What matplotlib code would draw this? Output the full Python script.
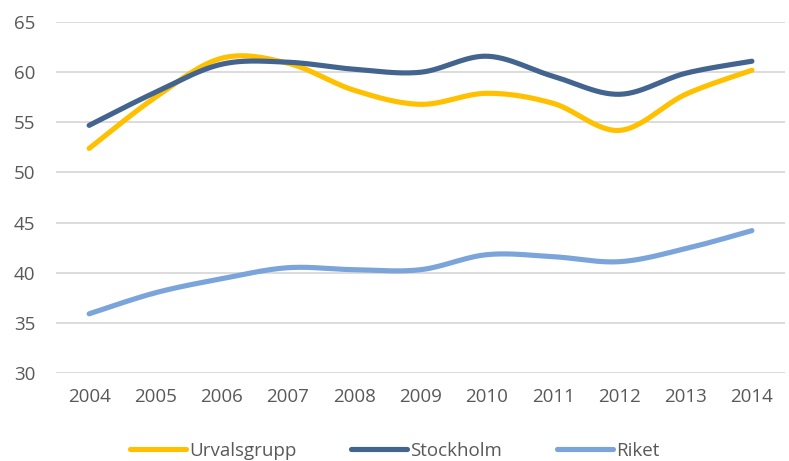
import matplotlib as mpl
import matplotlib.pyplot as plt
import numpy as np

mpl.use('Agg')
plt.rcParams['font.family'] = ['Open Sans', 'DejaVu Sans']

years = [2004, 2005, 2006, 2007, 2008, 2009, 2010, 2011, 2012, 2013, 2014]
urvalsgrupp = [52.4, 57.5, 61.4, 60.9, 58.2, 56.8, 57.9, 56.9, 54.2, 57.8, 60.2]
stockholm = [54.7, 58.0, 60.8, 61.0, 60.3, 60.0, 61.6, 59.6, 57.8, 59.9, 61.1]
riket = [35.9, 38.0, 39.4, 40.5, 40.3, 40.3, 41.8, 41.6, 41.1, 42.4, 44.2]

series = [("Urvalsgrupp", urvalsgrupp, "#FFC000"),
          ("Stockholm", stockholm, "#43648E"),
          ("Riket", riket, "#7AA4DA")]


def smooth(xs, ys, n=30):
    # excel-like smoothed line: bezier segments with catmull-rom control points
    xs = np.asarray(xs, float)
    ys = np.asarray(ys, float)
    px = np.concatenate([[xs[0]], xs, [xs[-1]]])
    py = np.concatenate([[ys[0]], ys, [ys[-1]]])
    t = np.linspace(0, 1, n)[:, None]
    out_x, out_y = [], []
    for i in range(1, len(px) - 2):
        p0 = np.array([px[i], py[i]])
        p3 = np.array([px[i + 1], py[i + 1]])
        c1 = p0 + (p3 - np.array([px[i - 1], py[i - 1]])) / 6
        c2 = p3 - (np.array([px[i + 2], py[i + 2]]) - p0) / 6
        pts = ((1 - t) ** 3) * p0 + 3 * ((1 - t) ** 2) * t * c1 \
            + 3 * (1 - t) * t ** 2 * c2 + t ** 3 * p3
        out_x.extend(pts[:, 0])
        out_y.extend(pts[:, 1])
    return out_x, out_y


fig = plt.figure(figsize=(7.89, 4.61), dpi=100)
ax = fig.add_axes([0.071, 0.191, 0.924, 0.761])

x = np.arange(len(years))
for name, vals, col in series:
    sx, sy = smooth(x, vals)
    ax.plot(sx, sy, color=col, lw=3.7, solid_capstyle='round', label=name)

ax.set_xlim(-0.5, len(years) - 0.5)
ax.set_ylim(30, 65)
ax.set_yticks(range(30, 66, 5))
ax.set_xticks(x)
ax.set_xticklabels([str(y) for y in years])
ax.grid(axis='y', color='#D9D9D9', lw=1.3)
ax.set_axisbelow(True)
for s in ax.spines.values():
    s.set_visible(False)
ax.tick_params(length=0, labelsize=13.5, colors='#595959')
ax.tick_params(axis='y', pad=15)
ax.tick_params(axis='x', pad=11)

fig.legend(loc='center', bbox_to_anchor=(0.5, 0.022), ncol=3, frameon=False,
           fontsize=13.5, handlelength=3.0, handletextpad=0.17, columnspacing=2.9,
           labelcolor='#595959')

fig.savefig('out.png', dpi=100)
